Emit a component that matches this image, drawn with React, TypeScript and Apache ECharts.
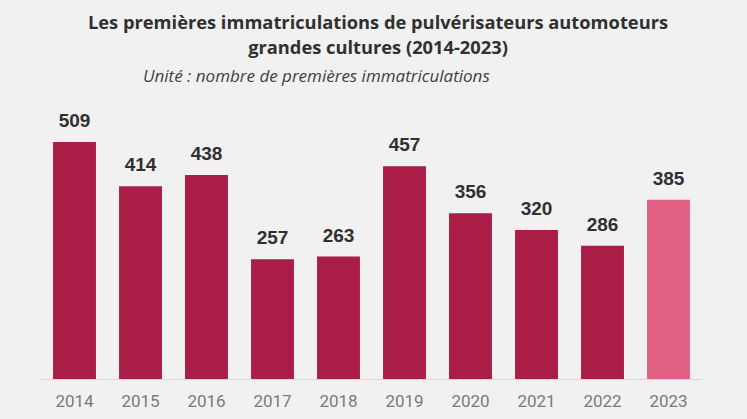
import React, { useEffect, useRef } from "react";
import * as echarts from "echarts";

const years = ["2014", "2015", "2016", "2017", "2018", "2019", "2020", "2021", "2022", "2023"];
const values = [509, 414, 438, 257, 263, 457, 356, 320, 286, 385];
const titleLines = [
  "Les premières immatriculations de pulvérisateurs automoteurs",
  "grandes cultures (2014-2023)",
];
const subtitle = "Unité : nombre de premières immatriculations";

export default function App() {
  const ref = useRef<HTMLDivElement>(null);
  useEffect(() => {
    if (!ref.current) return;
    const chart = echarts.init(ref.current, null, { renderer: "svg" });
    chart.setOption({
      animation: false,
      backgroundColor: "#f2f1f2",
      title: [
        {
          text: titleLines.join("\n"),
          left: 373,
          top: 4,
          textAlign: "center",
          textStyle: {
            fontFamily: "'Open Sans', sans-serif",
            fontSize: 18.3,
            fontWeight: "bold",
            color: "#303030",
            lineHeight: 25,
          },
        },
        {
          text: subtitle,
          left: 138,
          top: 62,
          textStyle: {
            fontFamily: "'Open Sans', sans-serif",
            fontSize: 17,
            fontStyle: "italic",
            fontWeight: "normal",
            color: "#404040",
          },
        },
      ],
      grid: { left: 41.5, right: 45.5, top: 99.6, bottom: 40, containLabel: false },
      xAxis: {
        type: "category",
        data: years,
        axisLine: { show: true, lineStyle: { color: "#d9d9d9", width: 1 } },
        axisTick: { show: false },
        axisLabel: {
          color: "#7a7a7a",
          fontSize: 17,
          fontFamily: "'Roboto', sans-serif",
          margin: 13,
        },
      },
      yAxis: { type: "value", min: 0, max: 600, show: false, splitLine: { show: false } },
      series: [
        {
          type: "bar",
          data: values.map((v, i) => ({
            value: v,
            itemStyle: { color: i === values.length - 1 ? "#e06083" : "#a91d47" },
          })),
          barCategoryGap: "35%",
          label: {
            show: true,
            position: "top",
            distance: 12,
            color: "#303030",
            fontSize: 19,
            fontWeight: "bold",
            fontFamily: "'Liberation Sans', Arial, sans-serif",
          },
        },
      ],
    });
    return () => chart.dispose();
  }, []);
  return (
    <div
      ref={ref}
      style={{ position: "fixed", left: 0, top: 0, width: 747, height: 419 }}
    />
  );
}
